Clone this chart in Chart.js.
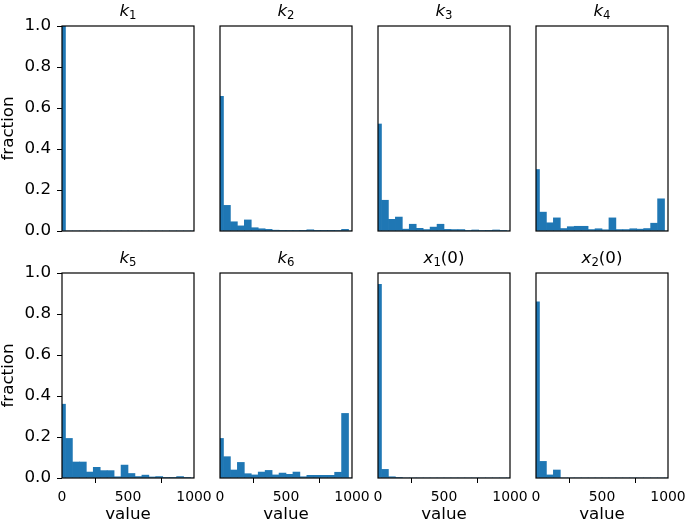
<!DOCTYPE html>
<html>
<head>
<meta charset="utf-8">
<script src="https://cdn.jsdelivr.net/npm/chart.js@4.4.1/dist/chart.umd.min.js"></script>
<style>
  html, body { margin: 0; padding: 0; background: #fff; }
  #fig { position: relative; width: 685px; height: 523px; overflow: hidden; }
  #fig canvas { position: absolute; }
</style>
</head>
<body>
<div id="fig"></div>
<script>
// bar centres on the value axis (20 bins)
const binCenters = [0, 52.6, 105.3, 157.9, 210.5, 263.2, 315.8, 368.4, 421.1, 473.7,
  526.3, 578.9, 631.6, 684.2, 736.8, 789.5, 842.1, 894.7, 947.4, 1000];

// fraction per bin
const k1 = [1.0, 0, 0, 0, 0, 0, 0, 0, 0, 0, 0, 0, 0, 0, 0, 0, 0, 0, 0, 0];
const k2 = [0.657, 0.125, 0.045, 0.025, 0.054, 0.016, 0.011, 0.008, 0.004, 0.003,
  0.002, 0.002, 0.001, 0.006, 0.001, 0.001, 0.001, 0.002, 0.008, 0];
const k3 = [0.522, 0.15, 0.057, 0.068, 0.009, 0.033, 0.013, 0.007, 0.019, 0.033,
  0.008, 0.007, 0.007, 0.002, 0.005, 0.002, 0.001, 0.005, 0.002, 0];
const k4 = [0.30, 0.092, 0.04, 0.064, 0.012, 0.021, 0.023, 0.023, 0.007, 0.011,
  0.006, 0.064, 0.007, 0.007, 0.011, 0.009, 0.012, 0.038, 0.157, 0];
const k5 = [0.36, 0.193, 0.078, 0.078, 0.029, 0.052, 0.036, 0.036, 0.006, 0.063,
  0.022, 0.007, 0.014, 0.005, 0.007, 0.003, 0.003, 0.007, 0.003, 0];
const k6 = [0.193, 0.104, 0.039, 0.076, 0.021, 0.015, 0.029, 0.037, 0.015, 0.024,
  0.018, 0.029, 0.006, 0.013, 0.013, 0.013, 0.013, 0.028, 0.315, 0];
const x1_0 = [0.945, 0.042, 0.006, 0.002, 0, 0, 0, 0, 0, 0, 0, 0, 0, 0, 0, 0, 0, 0, 0, 0];
const x2_0 = [0.859, 0.081, 0.015, 0.039, 0, 0, 0, 0, 0, 0, 0, 0, 0, 0, 0, 0, 0, 0, 0, 0];

const titles = ['k_1', 'k_2', 'k_3', 'k_4', 'k_5', 'k_6', 'x_1(0)', 'x_2(0)'];
const yTicks = [0, 0.2, 0.4, 0.6, 0.8, 1.0];
const xTicks = [0, 500, 1000];

const series = [k1, k2, k3, k4, k5, k6, x1_0, x2_0];

// panel geometry (plot area) in page pixels
const plotLefts = [62, 220, 378, 536];
const plotTops = [26, 273];
const plotW = 132, plotH = 205;
const padL = 62, padT = 26, padR = 30, padB = 45;

const FONT = 'DejaVu Sans';
const SIZE = 16.7;     // titles, axis labels, y tick labels
const XTICK = 13.9;    // x tick labels are smaller

// title like matplotlib mathtext: italic letter, subscript digit, upright tail
const titlePlugin = {
  id: 'panelTitle',
  afterDraw(chart, args, opts) {
    const m = /^(.)_(\d)(.*)$/.exec(opts.text);
    const ctx = chart.ctx, a = chart.chartArea;
    const fMain = 'italic ' + SIZE + 'px "' + FONT + '"';
    const fSub = (SIZE * 0.7).toFixed(1) + 'px "' + FONT + '"';
    const fTail = SIZE + 'px "' + FONT + '"';
    ctx.save();
    ctx.fillStyle = '#000';
    ctx.textBaseline = 'alphabetic';
    ctx.textAlign = 'left';
    ctx.font = fMain; const w1 = ctx.measureText(m[1]).width;
    ctx.font = fSub; const w2 = ctx.measureText(m[2]).width;
    ctx.font = fTail; const w3 = ctx.measureText(m[3]).width;
    let x = (a.left + a.right) / 2 - (w1 + w2 + w3) / 2;
    const y = a.top - 10;
    ctx.font = fMain; ctx.fillText(m[1], x, y); x += w1;
    ctx.font = fSub; ctx.fillText(m[2], x, y + 2.7); x += w2;
    ctx.font = fTail; ctx.fillText(m[3], x, y);
    ctx.restore();
  }
};

// four-sided frame round the plot area
const framePlugin = {
  id: 'frame',
  afterDatasetsDraw(chart) {
    const ctx = chart.ctx, a = chart.chartArea;
    ctx.save();
    ctx.strokeStyle = '#000';
    ctx.lineWidth = 1.2;
    ctx.strokeRect(a.left, a.top, a.right - a.left, a.bottom - a.top);
    ctx.restore();
  }
};

const fig = document.getElementById('fig');

series.forEach((vals, i) => {
  const col = i % 4, row = Math.floor(i / 4);
  const firstCol = col === 0, bottomRow = row === 1;

  const cv = document.createElement('canvas');
  cv.width = padL + plotW + padR;
  cv.height = padT + plotH + padB;
  cv.style.left = (plotLefts[col] - padL) + 'px';
  cv.style.top = (plotTops[row] - padT) + 'px';
  fig.appendChild(cv);

  new Chart(cv, {
    type: 'bar',
    data: {
      datasets: [{
        data: binCenters.map((x, j) => ({ x: x, y: vals[j] })),
        backgroundColor: '#1f77b4',
        borderWidth: 0,
        barPercentage: 1,
        categoryPercentage: 1,
        clip: 0
      }]
    },
    options: {
      responsive: false,
      animation: false,
      devicePixelRatio: 1,
      layout: { padding: { left: 0, top: padT, right: padR, bottom: 0 } },
      plugins: {
        legend: { display: false },
        tooltip: { enabled: false },
        panelTitle: { text: titles[i] }
      },
      scales: {
        x: {
          type: 'linear',
          min: 0,
          max: 1000,
          offset: false,
          afterBuildTicks: s => { s.ticks = xTicks.map(v => ({ value: v })); },
          afterFit: s => { s.height = padB; },
          border: { display: false },
          grid: { drawOnChartArea: false, drawTicks: bottomRow, tickLength: 5, color: '#000', lineWidth: 1 },
          ticks: {
            display: bottomRow,
            color: '#000',
            font: { family: FONT, size: XTICK },
            padding: 6,
            maxRotation: 0,
            autoSkip: false,
            callback: v => String(v)
          },
          title: {
            display: bottomRow,
            text: 'value',
            color: '#000',
            font: { family: FONT, size: SIZE, lineHeight: 1 },
            padding: 0
          }
        },
        y: {
          min: 0,
          max: 1,
          afterBuildTicks: s => { s.ticks = yTicks.map(v => ({ value: v })); },
          afterFit: s => { s.width = padL; },
          border: { display: false },
          grid: { drawOnChartArea: false, drawTicks: firstCol, tickLength: 5, color: '#000', lineWidth: 1 },
          ticks: {
            display: firstCol,
            color: '#000',
            font: { family: FONT, size: SIZE },
            padding: 6,
            callback: v => v.toFixed(1)
          },
          title: {
            display: firstCol,
            text: 'fraction',
            color: '#000',
            font: { family: FONT, size: SIZE, lineHeight: 1 },
            padding: 0
          }
        }
      }
    },
    plugins: [titlePlugin, framePlugin]
  });
});
</script>
</body>
</html>
